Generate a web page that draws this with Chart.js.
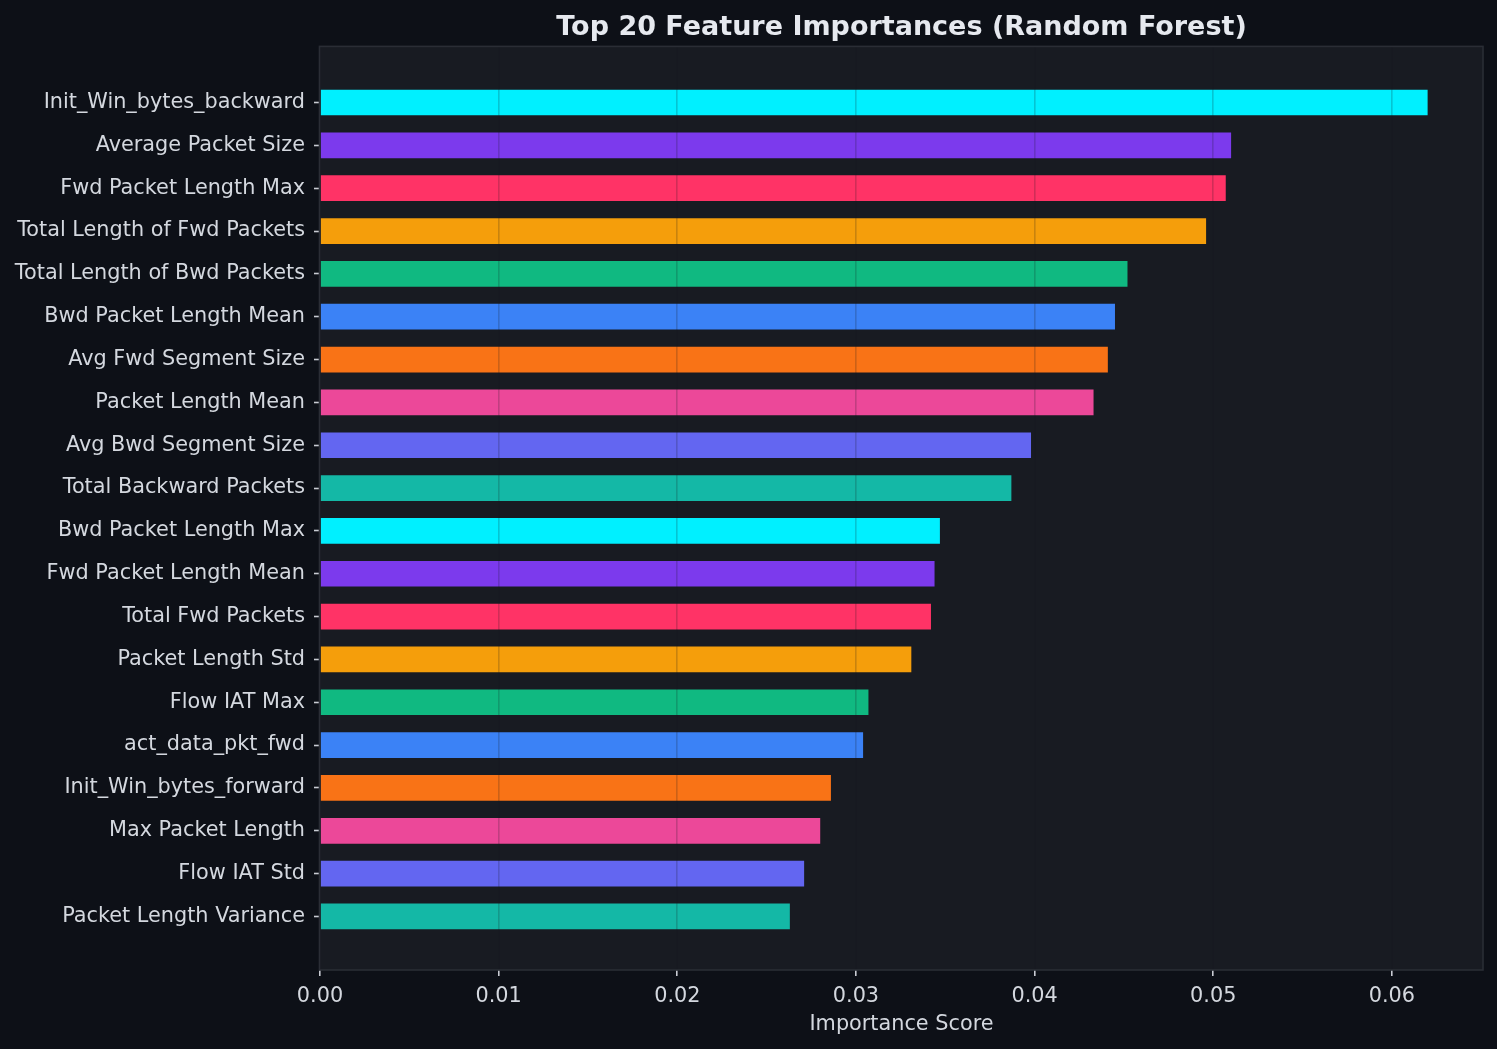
<!DOCTYPE html>
<html>
<head>
<meta charset="utf-8">
<script src="https://cdn.jsdelivr.net/npm/chart.js@4/dist/chart.umd.min.js"></script>
<style>
  html, body { margin: 0; padding: 0; background: #0d1017; }
  #wrap { width: 1497px; height: 1049px; }
</style>
</head>
<body>
<div id="wrap"><canvas id="c" width="1497" height="1049"></canvas></div>
<script>
const features = [
  "Init_Win_bytes_backward", "Average Packet Size", "Fwd Packet Length Max",
  "Total Length of Fwd Packets", "Total Length of Bwd Packets", "Bwd Packet Length Mean",
  "Avg Fwd Segment Size", "Packet Length Mean", "Avg Bwd Segment Size",
  "Total Backward Packets", "Bwd Packet Length Max", "Fwd Packet Length Mean",
  "Total Fwd Packets", "Packet Length Std", "Flow IAT Max", "act_data_pkt_fwd",
  "Init_Win_bytes_forward", "Max Packet Length", "Flow IAT Std", "Packet Length Variance"
];
const importances = [
  0.0620, 0.0510, 0.0507, 0.0496, 0.0452, 0.0445, 0.0441, 0.0433, 0.0398, 0.0387,
  0.0347, 0.0344, 0.0342, 0.0331, 0.0307, 0.0304, 0.0286, 0.0280, 0.0271, 0.0263
];
const palette = ["#00f0ff", "#7c3aed", "#ff3366", "#f59e0b", "#10b981",
                 "#3b82f6", "#f97316", "#ec4899", "#6366f1", "#14b8a6"];
const xTicks = [0, 0.01, 0.02, 0.03, 0.04, 0.05, 0.06];

const textColor = "#d4d8df";
const font = { family: "'DejaVu Sans', sans-serif", size: 20.8 };

const frame = {
  id: "frame",
  beforeDraw(chart) {
    const { ctx, chartArea: a } = chart;
    ctx.save();
    ctx.fillStyle = "#181b22";
    ctx.fillRect(a.left, a.top, a.right - a.left, a.bottom - a.top);
    ctx.restore();
  },
  afterDraw(chart) {
    const { ctx, chartArea: a } = chart;
    ctx.save();
    ctx.strokeStyle = "#2a2d35";
    ctx.lineWidth = 1.6;
    ctx.strokeRect(a.left - 0.5, a.top, a.right - a.left + 0.5, a.bottom - a.top);
    ctx.restore();
  }
};

new Chart(document.getElementById("c"), {
  type: "bar",
  data: {
    datasets: [{
      data: importances.map((v, i) => ({ x: v, y: i })),
      backgroundColor: importances.map((_, i) => palette[i % palette.length]),
      borderWidth: 0,
      barPercentage: 0.6,
      categoryPercentage: 1.0
    }]
  },
  options: {
    responsive: false,
    animation: false,
    indexAxis: "y",
    layout: { padding: { left: 0, right: 14, top: 0, bottom: 0 } },
    plugins: {
      legend: { display: false },
      tooltip: { enabled: false },
      title: {
        display: true,
        fullSize: false,
        text: "Top 20 Feature Importances (Random Forest)",
        color: "#e6e9ef",
        font: { family: "'DejaVu Sans', sans-serif", size: 27, weight: "bold" },
        padding: { top: 12, bottom: 2 }
      }
    },
    scales: {
      x: {
        type: "linear",
        min: 0,
        max: 0.0651,
        offset: false,
        afterBuildTicks: s => { s.ticks = xTicks.map(v => ({ value: v })); },
        afterFit: s => { s.height = 79; },
        border: { display: false },
        grid: {
          z: 1,
          offset: false,
          color: "rgba(20,24,32,0.2)",
          lineWidth: 1.6,
          drawTicks: true,
          tickLength: 6,
          tickColor: "#c9ccd3",
          tickWidth: 1.6
        },
        ticks: {
          color: textColor,
          font: font,
          padding: 8,
          maxRotation: 0,
          callback: v => Number(v).toFixed(2)
        },
        title: {
          display: true,
          text: "Importance Score",
          color: textColor,
          font: font,
          padding: { top: 0, bottom: 12 }
        }
      },
      y: {
        type: "linear",
        reverse: true,
        offset: false,
        min: -1.31,
        max: 20.25,
        afterBuildTicks: s => { s.ticks = features.map((_, i) => ({ value: i })); },
        afterFit: s => { s.width = 320; },
        border: { display: false },
        grid: {
          offset: false,
          drawOnChartArea: false,
          drawTicks: true,
          tickLength: 6,
          tickColor: "#c9ccd3",
          tickWidth: 1.6
        },
        ticks: {
          color: textColor,
          font: font,
          padding: 9,
          autoSkip: false,
          callback: v => features[v] ?? ""
        }
      }
    }
  },
  plugins: [frame]
});
</script>
</body>
</html>
